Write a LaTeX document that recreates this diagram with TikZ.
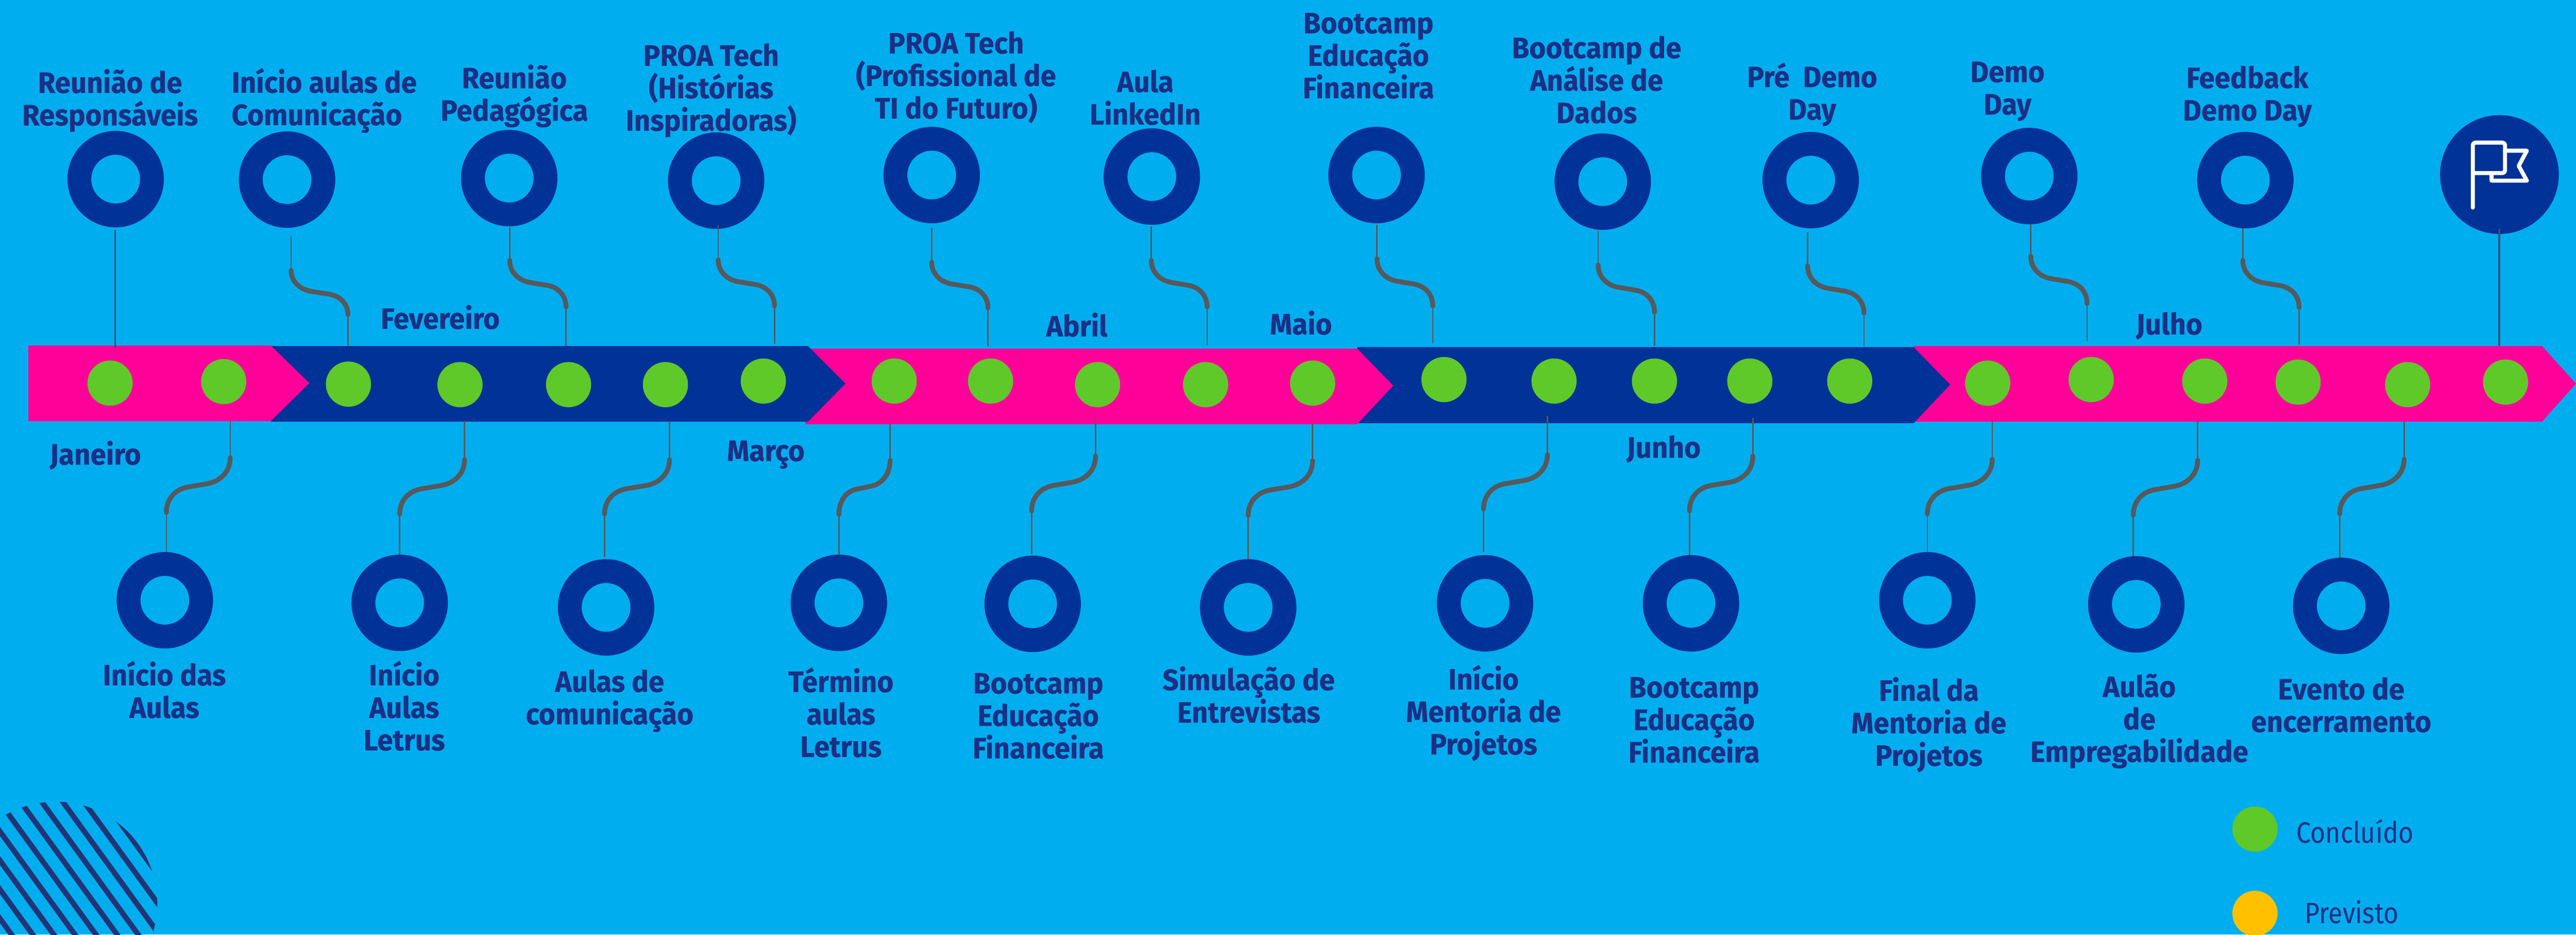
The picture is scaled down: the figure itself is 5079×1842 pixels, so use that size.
\documentclass[tikz,border=0pt]{standalone}
\usepackage{fontspec}
\setmainfont{Fira Sans}[FakeStretch=0.88,BoldFeatures={FakeStretch=0.96,FakeBold=0.35}]
\usetikzlibrary{calc}
\definecolor{sky}{HTML}{00AEEF}
\definecolor{navy}{HTML}{003298}
\definecolor{pinkbar}{HTML}{FF0099}
\definecolor{okgreen}{HTML}{5FC929}
\definecolor{plannedy}{HTML}{FFC000}
\definecolor{txt}{HTML}{1C2F84}
\definecolor{hatch}{HTML}{233476}
\definecolor{conn}{HTML}{58595B}
\definecolor{connb}{HTML}{33507A}
\tikzset{
  ringnode/.style={circle,draw=navy,line width=.47cm,minimum size=1.43cm,inner sep=0pt,outer sep=0pt},
  dotnode/.style={circle,fill=okgreen,minimum size=.89cm,inner sep=0pt,outer sep=0pt},
  lab/.style={text=txt,align=center,inner sep=0pt,font=\fontsize{16.5}{18.2}\selectfont\bfseries},
  legtext/.style={text=txt,inner sep=0pt,font=\fontsize{16.5}{18.2}\selectfont},
  thinc/.style={draw=conn,line width=.028cm},
  thickc/.style={draw=conn,line width=.095cm,line cap=round},
  blue line/.style={draw=connb,line width=.04cm},
}
\newcommand{\conn}[7]{%
  \coordinate (#1a) at (#2,#3);
  \coordinate (#1b) at (#2,#4);
  \coordinate (#1c) at (#5,#6);
  \coordinate (#1d) at (#5,#7);
  \draw[thinc] (#1a) -- (#1b);
  \draw[thinc] (#1c) -- (#1d);
  \draw[thickc] let \p1=(#1b),\p2=(#1c) in
    (#1b) .. controls ({\x1},{\y1+0.25*(\y2-\y1)}) and ({\x1+0.15*(\x2-\x1)},{\y1+0.43*(\y2-\y1)})
    .. ({\x1+0.36*(\x2-\x1)},{\y1+0.475*(\y2-\y1)})
    -- ({\x1+0.66*(\x2-\x1)},{\y1+0.535*(\y2-\y1)})
    .. controls ({\x1+0.86*(\x2-\x1)},{\y1+0.575*(\y2-\y1)}) and ({\x2},{\y1+0.75*(\y2-\y1)})
    .. (#1c);
}
\begin{document}
\begin{tikzpicture}[x=.01cm,y=-.01cm]
\fill[sky] (0,0) rectangle (5079,1842);
\useasboundingbox (0,0) rectangle (5079,1842);

% hatch
\begin{scope}
  \clip (110,1780) circle[radius=2cm];
  \foreach \k in {-9,...,1}
    \draw[hatch,line width=.105cm] ({175+41.6*\k-300},{1593.3-412.8}) -- ({175+41.6*\k+300},{1593.3+412.8});
\end{scope}

% bar, drawn right to left so each tip lies on the next segment
\fill[pinkbar] (3773,682) -- (5012,682) -- (5079,756) -- (5012,831) -- (3773,831) -- cycle;
\fill[navy] (2676,684) -- (3773,684) -- (3845,758) -- (3773,834) -- (2676,834) -- cycle;
\fill[pinkbar] (1588,687) -- (2676,687) -- (2747,760) -- (2676,836) -- (1588,836) -- cycle;
\fill[navy] (534,682) -- (1593,682) -- (1667,756) -- (1593,831) -- (534,831) -- cycle;
\fill[pinkbar] (56,681) -- (534,681) -- (610,755) -- (534,830) -- (56,830) -- cycle;

% dots
\foreach \n/\x/\y in {1/217/755,2/441/752,3/687/757,4/907/758,5/1121/758,6/1312/758,7/1505/751,8/1763/751,9/1953/751,10/2164/758,11/2377/758,12/2588/755,13/2847/748,14/3064/751,15/3262/751,16/3450/751,17/3647/751,18/3919/755,19/4123/748,20/4347/751,21/4531/753,22/4747/758,23/4940/753}
  \node[dotnode] (d\n) at (\x,\y) {};

% rings
\foreach \n/\x/\y in {1/228/353,2/566/354,3/1004/351,4/1412/356,5/1837/345,6/2271/348,7/2714/345,8/3160/358,9/3570/355,10/4001/347,11/4427/355}
  \node[ringnode] (t\n) at (\x,\y) {};
\foreach \n/\x/\y in {1/325/1183,2/788/1188,3/1195/1197,4/1654/1188,5/2036/1190,6/2461/1197,7/2928/1189,8/3334/1189,9/3800/1183,10/4212/1191,11/4616/1194}
  \node[ringnode] (b\n) at (\x,\y) {};

% flag
\node[circle,fill=navy,minimum size=2.34cm,inner sep=0pt] (flag) at (4928,344) {};
\draw[white,line width=.08cm,line cap=round,line join=round,rounded corners=.05cm]
  (4875.5,409) -- (4875.5,281) -- (4939,281) -- (4939,341) -- (4875.5,341);
\draw[white,line width=.08cm,line cap=round,line join=round]
  (4939,297) -- (4982,297) -- (4966,327) -- (4982,356) -- (4912.5,356) -- (4912.5,341);

% straight connectors
\coordinate (c1a) at (227,453);
\coordinate (c1b) at (227,686);
\draw[blue line] (c1a) -- (c1b);
\coordinate (c2a) at (4928,451);
\coordinate (c2b) at (4928,682);
\draw[blue line] (c2a) -- (c2b);

% S connectors upper: id, x1, start, thick start, x2, thick end, end
\conn{u2}{574}{464}{533}{686}{620}{682}
\conn{u3}{1005}{448}{513}{1116}{605}{682}
\conn{u4}{1416}{444}{512}{1527}{603}{678}
\conn{u5}{1837}{449}{517}{1948}{607}{683}
\conn{u6}{2270}{446}{513}{2380}{605}{680}
\conn{u7}{2715}{443}{510}{2825}{603}{677}
\conn{u8}{3151}{455}{522}{3262}{615}{682}
\conn{u9}{3564}{458}{524}{3675}{617}{682}
\conn{u10}{4004}{442}{505}{4115}{598}{672}
\conn{u11}{4422}{450}{513}{4533}{606}{680}
% S connectors lower
\conn{l1}{454}{830}{902}{328}{1010}{1088}
\conn{l2}{916}{830}{906}{788}{1013}{1093}
\conn{l3}{1320}{830}{906}{1192}{1013}{1098}
\conn{l4}{1755}{835}{907}{1654}{1014}{1093}
\conn{l5}{2160}{824}{899}{2034}{1007}{1092}
\conn{l6}{2588}{834}{908}{2461}{1016}{1102}
\conn{l7}{3051}{820}{896}{2925}{1003}{1088}
\conn{l8}{3456}{824}{899}{3331}{1007}{1094}
\conn{l9}{3928}{831}{905}{3800}{1013}{1088}
\conn{l10}{4333}{831}{907}{4206}{1015}{1096}
\conn{l11}{4740}{831}{905}{4613}{1013}{1099}

% labels top
\node[lab] (lt1) at (217,198) {Reunião de\\Responsáveis};
\node[lab,align=left,anchor=west] (lt2) at (456,198) {Início aulas de\\Comunicação};
\node[lab] (lt3) at (1014,189) {Reunião\\Pedagógica};
\node[lab] (lt4) at (1402,178) {PROA Tech\\(Histórias\\Inspiradoras)};
\node[lab] (lt5) at (1885,152) {PROA Tech\\(Profissional de\\TI do Futuro)};
\node[lab] (lt6) at (2258,192) {Aula\\LinkedIn};
\node[lab] (lt7) at (2698,110) {Bootcamp\\Educação\\Financeira};
\node[lab] (lt8) at (3148,157) {Bootcamp de\\Análise de\\Dados};
\node[lab] (lt9) at (3573,186) {Pré\ \ Demo\\Day};
\node[lab] (lt10) at (3958,180) {Demo\\Day};
\node[lab] (lt11) at (4431,190) {Feedback\\Demo Day};
% months
\node[lab] (m1) at (188,897) {Janeiro};
\node[lab] (m2) at (868,625) {Fevereiro};
\node[lab] (m3) at (1510,896) {Março};
\node[lab] (m4) at (2123,640) {Abril};
\node[lab] (m5) at (2565,636) {Maio};
\node[lab] (m6) at (3280,885) {Junho};
\node[lab] (m7) at (4277,642) {Julho};
% labels bottom
\node[lab] (lb1) at (324,1359) {Início das\\Aulas};
\node[lab] (lb2) at (797,1391) {Início\\Aulas\\Letrus};
\node[lab] (lb3) at (1202,1381) {Aulas de\\comunicação};
\node[lab] (lb4) at (1658,1404) {Término\\aulas\\Letrus};
\node[lab] (lb5) at (2047,1411) {Bootcamp\\Educação\\Financeira};
\node[lab] (lb6) at (2462,1369) {Simulação de\\Entrevistas};
\node[lab] (lb7) at (2925,1405) {Início\\Mentoria de\\Projetos};
\node[lab] (lb8) at (3340,1419) {Bootcamp\\Educação\\Financeira};
\node[lab] (lb9) at (3803,1428) {Final da\\Mentoria de\\Projetos};
\node[lab] (lb10) at (4218,1421) {Aulão\\de\\Empregabilidade};
\node[lab] (lb11) at (4616,1389) {Evento de\\encerramento};

% legend
\node[circle,fill=okgreen,minimum size=.89cm,inner sep=0pt] (k1) at (4446,1634) {};
\node[circle,fill=plannedy,minimum size=.89cm,inner sep=0pt] (k2) at (4446,1800) {};
\node[legtext] (kt1) at (4643,1638) {Concluído};
\node[legtext] (kt2) at (4637,1797) {Previsto};
\end{tikzpicture}
\end{document}
